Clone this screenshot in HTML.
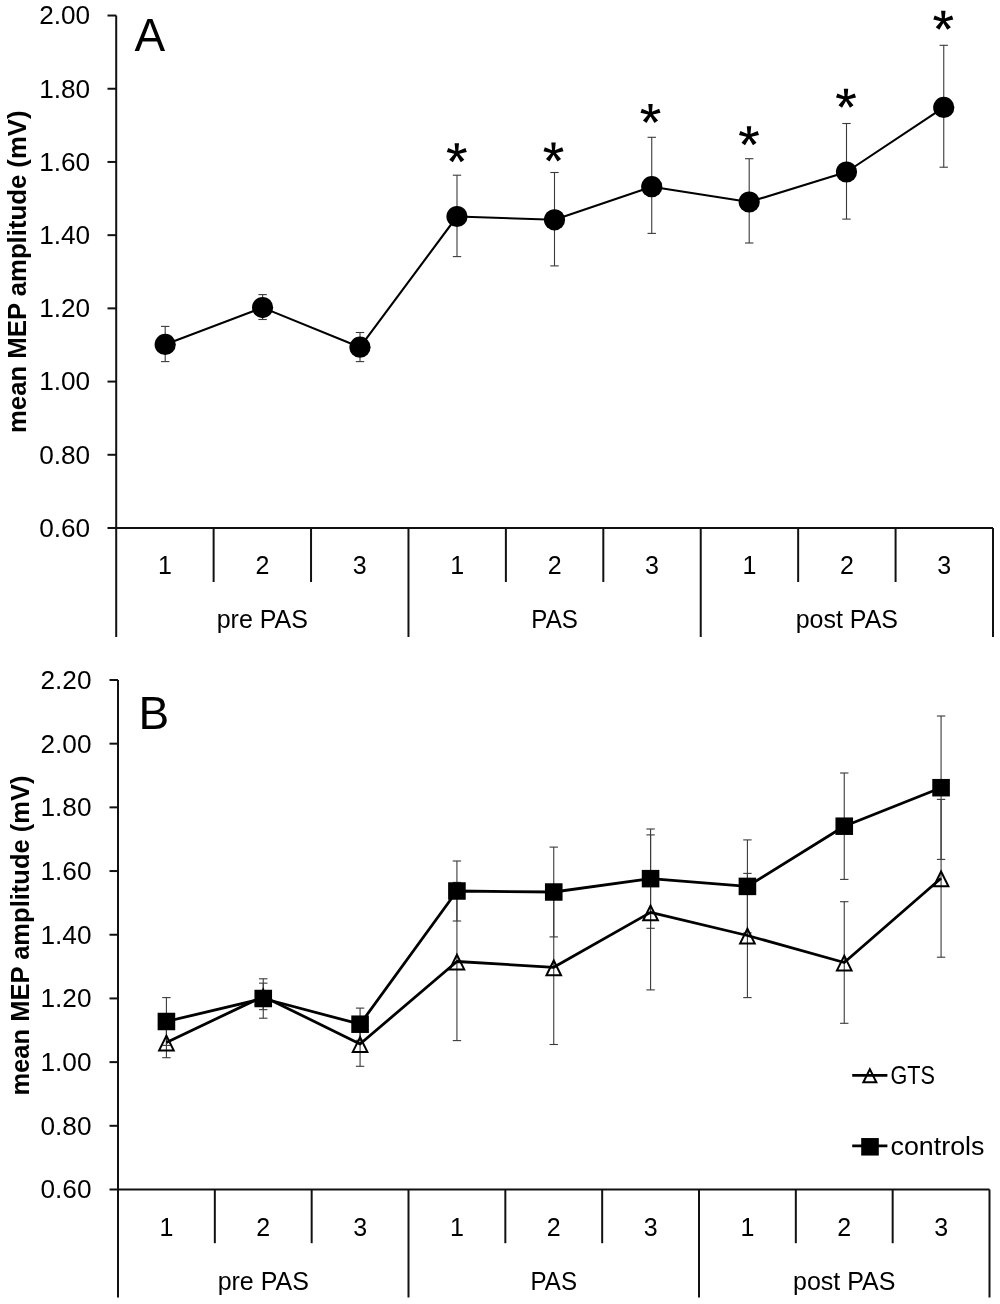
<!DOCTYPE html><html><head><meta charset="utf-8"><style>html,body{margin:0;padding:0;background:#fff;}svg{display:block;will-change:transform;}.t{font-family:"Liberation Sans", sans-serif;font-size:25px;fill:#000;}.ax{stroke:#111;stroke-width:2;fill:none;}.eb{stroke:#3a3a3a;stroke-width:1.1;fill:none;}</style></head><body>
<svg width="1000" height="1304" viewBox="0 0 1000 1304">
<rect width="1000" height="1304" fill="#fff"/>
<line x1="116.2" y1="15.530000000000086" x2="116.2" y2="637" class="ax"/>
<line x1="107.5" y1="15.530000000000086" x2="116.2" y2="15.530000000000086" class="ax"/>
<text x="90.2" y="24.43" text-anchor="end" class="t" textLength="51" lengthAdjust="spacingAndGlyphs">2.00</text>
<line x1="107.5" y1="88.73999999999995" x2="116.2" y2="88.73999999999995" class="ax"/>
<text x="90.2" y="97.64" text-anchor="end" class="t" textLength="51" lengthAdjust="spacingAndGlyphs">1.80</text>
<line x1="107.5" y1="161.95000000000005" x2="116.2" y2="161.95000000000005" class="ax"/>
<text x="90.2" y="170.85" text-anchor="end" class="t" textLength="51" lengthAdjust="spacingAndGlyphs">1.60</text>
<line x1="107.5" y1="235.16000000000008" x2="116.2" y2="235.16000000000008" class="ax"/>
<text x="90.2" y="244.06" text-anchor="end" class="t" textLength="51" lengthAdjust="spacingAndGlyphs">1.40</text>
<line x1="107.5" y1="308.37000000000006" x2="116.2" y2="308.37000000000006" class="ax"/>
<text x="90.2" y="317.27" text-anchor="end" class="t" textLength="51" lengthAdjust="spacingAndGlyphs">1.20</text>
<line x1="107.5" y1="381.58000000000004" x2="116.2" y2="381.58000000000004" class="ax"/>
<text x="90.2" y="390.48" text-anchor="end" class="t" textLength="51" lengthAdjust="spacingAndGlyphs">1.00</text>
<line x1="107.5" y1="454.78999999999996" x2="116.2" y2="454.78999999999996" class="ax"/>
<text x="90.2" y="463.69" text-anchor="end" class="t" textLength="51" lengthAdjust="spacingAndGlyphs">0.80</text>
<line x1="107.5" y1="528.0" x2="116.2" y2="528.0" class="ax"/>
<text x="90.2" y="536.90" text-anchor="end" class="t" textLength="51" lengthAdjust="spacingAndGlyphs">0.60</text>
<line x1="116.2" y1="528" x2="993" y2="528" class="ax"/>
<line x1="213.62" y1="528" x2="213.62" y2="582" class="ax"/>
<line x1="311.04" y1="528" x2="311.04" y2="582" class="ax"/>
<line x1="408.47" y1="528" x2="408.47" y2="637" class="ax"/>
<line x1="505.89" y1="528" x2="505.89" y2="582" class="ax"/>
<line x1="603.31" y1="528" x2="603.31" y2="582" class="ax"/>
<line x1="700.73" y1="528" x2="700.73" y2="637" class="ax"/>
<line x1="798.16" y1="528" x2="798.16" y2="582" class="ax"/>
<line x1="895.58" y1="528" x2="895.58" y2="582" class="ax"/>
<line x1="993.00" y1="528" x2="993.00" y2="637" class="ax"/>
<text x="164.91" y="574.3" text-anchor="middle" class="t">1</text>
<text x="262.33" y="574.3" text-anchor="middle" class="t">2</text>
<text x="359.76" y="574.3" text-anchor="middle" class="t">3</text>
<text x="457.18" y="574.3" text-anchor="middle" class="t">1</text>
<text x="554.60" y="574.3" text-anchor="middle" class="t">2</text>
<text x="652.02" y="574.3" text-anchor="middle" class="t">3</text>
<text x="749.44" y="574.3" text-anchor="middle" class="t">1</text>
<text x="846.87" y="574.3" text-anchor="middle" class="t">2</text>
<text x="944.29" y="574.3" text-anchor="middle" class="t">3</text>
<text x="262.33" y="628.00" text-anchor="middle" class="t">pre PAS</text>
<text x="554.60" y="628.00" text-anchor="middle" class="t" textLength="46.5" lengthAdjust="spacingAndGlyphs">PAS</text>
<text x="846.87" y="628.00" text-anchor="middle" class="t">post PAS</text>
<text x="134.5" y="51.3" class="t" style="font-size:46px">A</text>
<text transform="translate(26.2,271.75) rotate(-90)" text-anchor="middle" class="t" textLength="322.5" lengthAdjust="spacingAndGlyphs" style="font-weight:bold;font-size:25px">mean MEP amplitude (mV)</text>
<line x1="165.20" y1="326.40" x2="165.20" y2="361.60" class="eb"/>
<line x1="161.00" y1="326.40" x2="169.40" y2="326.40" class="eb"/>
<line x1="161.00" y1="361.60" x2="169.40" y2="361.60" class="eb"/>
<line x1="262.60" y1="294.60" x2="262.60" y2="319.50" class="eb"/>
<line x1="258.40" y1="294.60" x2="266.80" y2="294.60" class="eb"/>
<line x1="258.40" y1="319.50" x2="266.80" y2="319.50" class="eb"/>
<line x1="360.00" y1="332.50" x2="360.00" y2="361.60" class="eb"/>
<line x1="355.80" y1="332.50" x2="364.20" y2="332.50" class="eb"/>
<line x1="355.80" y1="361.60" x2="364.20" y2="361.60" class="eb"/>
<line x1="457.00" y1="175.20" x2="457.00" y2="256.60" class="eb"/>
<line x1="452.80" y1="175.20" x2="461.20" y2="175.20" class="eb"/>
<line x1="452.80" y1="256.60" x2="461.20" y2="256.60" class="eb"/>
<line x1="554.50" y1="172.50" x2="554.50" y2="265.90" class="eb"/>
<line x1="550.30" y1="172.50" x2="558.70" y2="172.50" class="eb"/>
<line x1="550.30" y1="265.90" x2="558.70" y2="265.90" class="eb"/>
<line x1="651.75" y1="137.30" x2="651.75" y2="233.40" class="eb"/>
<line x1="647.55" y1="137.30" x2="655.95" y2="137.30" class="eb"/>
<line x1="647.55" y1="233.40" x2="655.95" y2="233.40" class="eb"/>
<line x1="749.20" y1="158.70" x2="749.20" y2="243.00" class="eb"/>
<line x1="745.00" y1="158.70" x2="753.40" y2="158.70" class="eb"/>
<line x1="745.00" y1="243.00" x2="753.40" y2="243.00" class="eb"/>
<line x1="846.50" y1="123.50" x2="846.50" y2="219.10" class="eb"/>
<line x1="842.30" y1="123.50" x2="850.70" y2="123.50" class="eb"/>
<line x1="842.30" y1="219.10" x2="850.70" y2="219.10" class="eb"/>
<line x1="943.75" y1="45.30" x2="943.75" y2="167.20" class="eb"/>
<line x1="939.55" y1="45.30" x2="947.95" y2="45.30" class="eb"/>
<line x1="939.55" y1="167.20" x2="947.95" y2="167.20" class="eb"/>
<polyline fill="none" stroke="#000" stroke-width="2.1" stroke-linejoin="round" points="165.20,344.40 262.60,307.60 360.00,347.20 457.00,216.50 554.50,219.80 651.75,186.70 749.20,202.00 846.50,172.00 943.75,107.40"/>
<circle cx="165.20" cy="344.40" r="10.6" fill="#000"/>
<circle cx="262.60" cy="307.60" r="10.6" fill="#000"/>
<circle cx="360.00" cy="347.20" r="10.6" fill="#000"/>
<circle cx="457.00" cy="216.50" r="10.6" fill="#000"/>
<circle cx="554.50" cy="219.80" r="10.6" fill="#000"/>
<circle cx="651.75" cy="186.70" r="10.6" fill="#000"/>
<circle cx="749.20" cy="202.00" r="10.6" fill="#000"/>
<circle cx="846.50" cy="172.00" r="10.6" fill="#000"/>
<circle cx="943.75" cy="107.40" r="10.6" fill="#000"/>
<path d="M458.10,153.00L459.00,143.20L454.60,143.20L455.50,153.00ZM457.20,154.24L466.80,152.06L465.44,147.88L456.40,151.76ZM455.75,153.76L460.78,162.22L464.34,159.64L457.85,152.24ZM455.75,152.24L449.26,159.64L452.82,162.22L457.85,153.76ZM457.20,151.76L448.16,147.88L446.80,152.06L456.40,154.24Z" fill="#000"/>
<circle cx="456.80" cy="153.00" r="2.60" fill="#000"/>
<path d="M554.80,152.30L555.70,142.50L551.30,142.50L552.20,152.30ZM553.90,153.54L563.50,151.36L562.14,147.18L553.10,151.06ZM552.45,153.06L557.48,161.52L561.04,158.94L554.55,151.54ZM552.45,151.54L545.96,158.94L549.52,161.52L554.55,153.06ZM553.90,151.06L544.86,147.18L543.50,151.36L553.10,153.54Z" fill="#000"/>
<circle cx="553.50" cy="152.30" r="2.60" fill="#000"/>
<path d="M651.80,113.80L652.70,104.00L648.30,104.00L649.20,113.80ZM650.90,115.04L660.50,112.86L659.14,108.68L650.10,112.56ZM649.45,114.56L654.48,123.02L658.04,120.44L651.55,113.04ZM649.45,113.04L642.96,120.44L646.52,123.02L651.55,114.56ZM650.90,112.56L641.86,108.68L640.50,112.86L650.10,115.04Z" fill="#000"/>
<circle cx="650.50" cy="113.80" r="2.60" fill="#000"/>
<path d="M750.30,136.00L751.20,126.20L746.80,126.20L747.70,136.00ZM749.40,137.24L759.00,135.06L757.64,130.88L748.60,134.76ZM747.95,136.76L752.98,145.22L756.54,142.64L750.05,135.24ZM747.95,135.24L741.46,142.64L745.02,145.22L750.05,136.76ZM749.40,134.76L740.36,130.88L739.00,135.06L748.60,137.24Z" fill="#000"/>
<circle cx="749.00" cy="136.00" r="2.60" fill="#000"/>
<path d="M847.30,98.50L848.20,88.70L843.80,88.70L844.70,98.50ZM846.40,99.74L856.00,97.56L854.64,93.38L845.60,97.26ZM844.95,99.26L849.98,107.72L853.54,105.14L847.05,97.74ZM844.95,97.74L838.46,105.14L842.02,107.72L847.05,99.26ZM846.40,97.26L837.36,93.38L836.00,97.56L845.60,99.74Z" fill="#000"/>
<circle cx="846.00" cy="98.50" r="2.60" fill="#000"/>
<path d="M944.60,20.50L945.50,10.70L941.10,10.70L942.00,20.50ZM943.70,21.74L953.30,19.56L951.94,15.38L942.90,19.26ZM942.25,21.26L947.28,29.72L950.84,27.14L944.35,19.74ZM942.25,19.74L935.76,27.14L939.32,29.72L944.35,21.26ZM943.70,19.26L934.66,15.38L933.30,19.56L942.90,21.74Z" fill="#000"/>
<circle cx="943.30" cy="20.50" r="2.60" fill="#000"/>
<line x1="118" y1="679.98" x2="118" y2="1297.5" class="ax"/>
<line x1="109.5" y1="679.98" x2="118" y2="679.98" class="ax"/>
<text x="91.5" y="688.88" text-anchor="end" class="t" textLength="51" lengthAdjust="spacingAndGlyphs">2.20</text>
<line x1="109.5" y1="743.6700000000001" x2="118" y2="743.6700000000001" class="ax"/>
<text x="91.5" y="752.57" text-anchor="end" class="t" textLength="51" lengthAdjust="spacingAndGlyphs">2.00</text>
<line x1="109.5" y1="807.3599999999999" x2="118" y2="807.3599999999999" class="ax"/>
<text x="91.5" y="816.26" text-anchor="end" class="t" textLength="51" lengthAdjust="spacingAndGlyphs">1.80</text>
<line x1="109.5" y1="871.05" x2="118" y2="871.05" class="ax"/>
<text x="91.5" y="879.95" text-anchor="end" class="t" textLength="51" lengthAdjust="spacingAndGlyphs">1.60</text>
<line x1="109.5" y1="934.74" x2="118" y2="934.74" class="ax"/>
<text x="91.5" y="943.64" text-anchor="end" class="t" textLength="51" lengthAdjust="spacingAndGlyphs">1.40</text>
<line x1="109.5" y1="998.4300000000001" x2="118" y2="998.4300000000001" class="ax"/>
<text x="91.5" y="1007.33" text-anchor="end" class="t" textLength="51" lengthAdjust="spacingAndGlyphs">1.20</text>
<line x1="109.5" y1="1062.12" x2="118" y2="1062.12" class="ax"/>
<text x="91.5" y="1071.02" text-anchor="end" class="t" textLength="51" lengthAdjust="spacingAndGlyphs">1.00</text>
<line x1="109.5" y1="1125.81" x2="118" y2="1125.81" class="ax"/>
<text x="91.5" y="1134.71" text-anchor="end" class="t" textLength="51" lengthAdjust="spacingAndGlyphs">0.80</text>
<line x1="109.5" y1="1189.5" x2="118" y2="1189.5" class="ax"/>
<text x="91.5" y="1198.40" text-anchor="end" class="t" textLength="51" lengthAdjust="spacingAndGlyphs">0.60</text>
<line x1="118" y1="1189.5" x2="989.5" y2="1189.5" class="ax"/>
<line x1="214.83" y1="1189.5" x2="214.83" y2="1243.2" class="ax"/>
<line x1="311.67" y1="1189.5" x2="311.67" y2="1243.2" class="ax"/>
<line x1="408.50" y1="1189.5" x2="408.50" y2="1297.5" class="ax"/>
<line x1="505.33" y1="1189.5" x2="505.33" y2="1243.2" class="ax"/>
<line x1="602.17" y1="1189.5" x2="602.17" y2="1243.2" class="ax"/>
<line x1="699.00" y1="1189.5" x2="699.00" y2="1297.5" class="ax"/>
<line x1="795.83" y1="1189.5" x2="795.83" y2="1243.2" class="ax"/>
<line x1="892.67" y1="1189.5" x2="892.67" y2="1243.2" class="ax"/>
<line x1="989.50" y1="1189.5" x2="989.50" y2="1297.5" class="ax"/>
<text x="166.42" y="1235.6" text-anchor="middle" class="t">1</text>
<text x="263.25" y="1235.6" text-anchor="middle" class="t">2</text>
<text x="360.08" y="1235.6" text-anchor="middle" class="t">3</text>
<text x="456.92" y="1235.6" text-anchor="middle" class="t">1</text>
<text x="553.75" y="1235.6" text-anchor="middle" class="t">2</text>
<text x="650.58" y="1235.6" text-anchor="middle" class="t">3</text>
<text x="747.42" y="1235.6" text-anchor="middle" class="t">1</text>
<text x="844.25" y="1235.6" text-anchor="middle" class="t">2</text>
<text x="941.08" y="1235.6" text-anchor="middle" class="t">3</text>
<text x="263.25" y="1289.60" text-anchor="middle" class="t">pre PAS</text>
<text x="553.75" y="1289.60" text-anchor="middle" class="t" textLength="46.5" lengthAdjust="spacingAndGlyphs">PAS</text>
<text x="844.25" y="1289.60" text-anchor="middle" class="t">post PAS</text>
<text x="138.6" y="729.3" class="t" style="font-size:46px">B</text>
<text transform="translate(28.5,935.5) rotate(-90)" text-anchor="middle" class="t" textLength="320.2" lengthAdjust="spacingAndGlyphs" style="font-weight:bold;font-size:25px">mean MEP amplitude (mV)</text>
<line x1="166.42" y1="1027.30" x2="166.42" y2="1057.70" class="eb"/>
<line x1="162.22" y1="1027.30" x2="170.62" y2="1027.30" class="eb"/>
<line x1="162.22" y1="1057.70" x2="170.62" y2="1057.70" class="eb"/>
<line x1="263.25" y1="983.15" x2="263.25" y2="1009.65" class="eb"/>
<line x1="259.05" y1="983.15" x2="267.45" y2="983.15" class="eb"/>
<line x1="259.05" y1="1009.65" x2="267.45" y2="1009.65" class="eb"/>
<line x1="360.08" y1="1021.70" x2="360.08" y2="1066.30" class="eb"/>
<line x1="355.88" y1="1021.70" x2="364.28" y2="1021.70" class="eb"/>
<line x1="355.88" y1="1066.30" x2="364.28" y2="1066.30" class="eb"/>
<line x1="456.92" y1="882.40" x2="456.92" y2="1040.60" class="eb"/>
<line x1="452.72" y1="882.40" x2="461.12" y2="882.40" class="eb"/>
<line x1="452.72" y1="1040.60" x2="461.12" y2="1040.60" class="eb"/>
<line x1="553.75" y1="890.10" x2="553.75" y2="1044.50" class="eb"/>
<line x1="549.55" y1="890.10" x2="557.95" y2="890.10" class="eb"/>
<line x1="549.55" y1="1044.50" x2="557.95" y2="1044.50" class="eb"/>
<line x1="650.58" y1="834.90" x2="650.58" y2="989.90" class="eb"/>
<line x1="646.38" y1="834.90" x2="654.78" y2="834.90" class="eb"/>
<line x1="646.38" y1="989.90" x2="654.78" y2="989.90" class="eb"/>
<line x1="747.42" y1="873.40" x2="747.42" y2="997.60" class="eb"/>
<line x1="743.22" y1="873.40" x2="751.62" y2="873.40" class="eb"/>
<line x1="743.22" y1="997.60" x2="751.62" y2="997.60" class="eb"/>
<line x1="844.25" y1="901.70" x2="844.25" y2="1023.30" class="eb"/>
<line x1="840.05" y1="901.70" x2="848.45" y2="901.70" class="eb"/>
<line x1="840.05" y1="1023.30" x2="848.45" y2="1023.30" class="eb"/>
<line x1="941.08" y1="799.40" x2="941.08" y2="957.20" class="eb"/>
<line x1="936.88" y1="799.40" x2="945.28" y2="799.40" class="eb"/>
<line x1="936.88" y1="957.20" x2="945.28" y2="957.20" class="eb"/>
<line x1="166.42" y1="997.60" x2="166.42" y2="1045.40" class="eb"/>
<line x1="162.22" y1="997.60" x2="170.62" y2="997.60" class="eb"/>
<line x1="162.22" y1="1045.40" x2="170.62" y2="1045.40" class="eb"/>
<line x1="263.25" y1="978.80" x2="263.25" y2="1018.20" class="eb"/>
<line x1="259.05" y1="978.80" x2="267.45" y2="978.80" class="eb"/>
<line x1="259.05" y1="1018.20" x2="267.45" y2="1018.20" class="eb"/>
<line x1="360.08" y1="1008.10" x2="360.08" y2="1040.30" class="eb"/>
<line x1="355.88" y1="1008.10" x2="364.28" y2="1008.10" class="eb"/>
<line x1="355.88" y1="1040.30" x2="364.28" y2="1040.30" class="eb"/>
<line x1="456.92" y1="861.00" x2="456.92" y2="921.00" class="eb"/>
<line x1="452.72" y1="861.00" x2="461.12" y2="861.00" class="eb"/>
<line x1="452.72" y1="921.00" x2="461.12" y2="921.00" class="eb"/>
<line x1="553.75" y1="847.10" x2="553.75" y2="936.90" class="eb"/>
<line x1="549.55" y1="847.10" x2="557.95" y2="847.10" class="eb"/>
<line x1="549.55" y1="936.90" x2="557.95" y2="936.90" class="eb"/>
<line x1="650.58" y1="829.00" x2="650.58" y2="928.30" class="eb"/>
<line x1="646.38" y1="829.00" x2="654.78" y2="829.00" class="eb"/>
<line x1="646.38" y1="928.30" x2="654.78" y2="928.30" class="eb"/>
<line x1="747.42" y1="839.90" x2="747.42" y2="932.90" class="eb"/>
<line x1="743.22" y1="839.90" x2="751.62" y2="839.90" class="eb"/>
<line x1="743.22" y1="932.90" x2="751.62" y2="932.90" class="eb"/>
<line x1="844.25" y1="773.00" x2="844.25" y2="879.40" class="eb"/>
<line x1="840.05" y1="773.00" x2="848.45" y2="773.00" class="eb"/>
<line x1="840.05" y1="879.40" x2="848.45" y2="879.40" class="eb"/>
<line x1="941.08" y1="716.00" x2="941.08" y2="859.40" class="eb"/>
<line x1="936.88" y1="716.00" x2="945.28" y2="716.00" class="eb"/>
<line x1="936.88" y1="859.40" x2="945.28" y2="859.40" class="eb"/>
<polyline fill="none" stroke="#000" stroke-width="2.8" stroke-linejoin="round" points="166.42,1042.50 263.25,996.40 360.08,1044.00 456.92,961.50 553.75,967.30 650.58,912.40 747.42,935.50 844.25,962.50 941.08,878.30"/>
<path d="M166.42,1035.70L173.72,1050.40L159.12,1050.40Z" fill="none" stroke="#000" stroke-width="2" stroke-linejoin="miter"/>
<path d="M263.25,989.60L270.55,1004.30L255.95,1004.30Z" fill="none" stroke="#000" stroke-width="2" stroke-linejoin="miter"/>
<path d="M360.08,1037.20L367.38,1051.90L352.78,1051.90Z" fill="none" stroke="#000" stroke-width="2" stroke-linejoin="miter"/>
<path d="M456.92,954.70L464.22,969.40L449.62,969.40Z" fill="none" stroke="#000" stroke-width="2" stroke-linejoin="miter"/>
<path d="M553.75,960.50L561.05,975.20L546.45,975.20Z" fill="none" stroke="#000" stroke-width="2" stroke-linejoin="miter"/>
<path d="M650.58,905.60L657.88,920.30L643.28,920.30Z" fill="none" stroke="#000" stroke-width="2" stroke-linejoin="miter"/>
<path d="M747.42,928.70L754.72,943.40L740.12,943.40Z" fill="none" stroke="#000" stroke-width="2" stroke-linejoin="miter"/>
<path d="M844.25,955.70L851.55,970.40L836.95,970.40Z" fill="none" stroke="#000" stroke-width="2" stroke-linejoin="miter"/>
<path d="M941.08,871.50L948.38,886.20L933.78,886.20Z" fill="none" stroke="#000" stroke-width="2" stroke-linejoin="miter"/>
<polyline fill="none" stroke="#000" stroke-width="2.8" stroke-linejoin="round" points="166.42,1021.50 263.25,998.50 360.08,1024.20 456.92,891.00 553.75,892.00 650.58,878.65 747.42,886.40 844.25,826.20 941.08,787.70"/>
<rect x="157.62" y="1012.75" width="17.6" height="17.5" fill="#000"/>
<rect x="254.45" y="989.75" width="17.6" height="17.5" fill="#000"/>
<rect x="351.28" y="1015.45" width="17.6" height="17.5" fill="#000"/>
<rect x="448.12" y="882.25" width="17.6" height="17.5" fill="#000"/>
<rect x="544.95" y="883.25" width="17.6" height="17.5" fill="#000"/>
<rect x="641.78" y="869.90" width="17.6" height="17.5" fill="#000"/>
<rect x="738.62" y="877.65" width="17.6" height="17.5" fill="#000"/>
<rect x="835.45" y="817.45" width="17.6" height="17.5" fill="#000"/>
<rect x="932.28" y="778.95" width="17.6" height="17.5" fill="#000"/>
<line x1="852.2" y1="1075.4" x2="887.4" y2="1075.4" stroke="#000" stroke-width="2.8"/>
<path d="M869.85,1069.15L876.35,1082.23L863.35,1082.23Z" fill="none" stroke="#000" stroke-width="2" stroke-linejoin="miter"/>
<text x="890.5" y="1084.2" class="t" textLength="44.5" lengthAdjust="spacingAndGlyphs">GTS</text>
<line x1="852.2" y1="1145.9" x2="887.4" y2="1145.9" stroke="#000" stroke-width="2.8"/>
<rect x="861.20" y="1138.05" width="17.6" height="17.5" fill="#000"/>
<text x="890.5" y="1155.2" class="t" textLength="94" lengthAdjust="spacingAndGlyphs">controls</text>
</svg></body></html>
